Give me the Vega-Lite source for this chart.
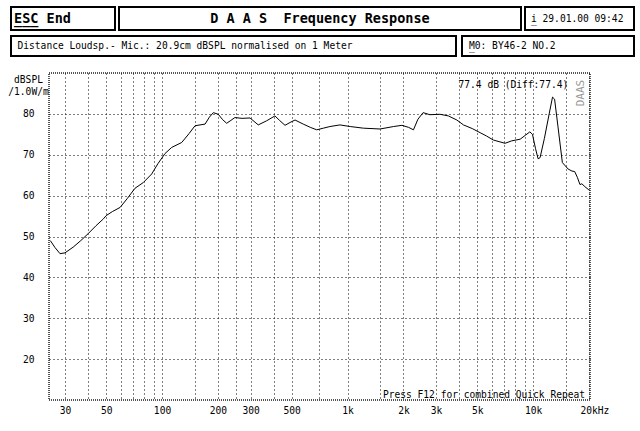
{
  "$schema": "https://vega.github.io/schema/vega-lite/v6.json",
  "background": "white",
  "padding": {"left": 6, "top": 6, "right": 0, "bottom": 0},
  "config": {
    "font": "DejaVu Sans Mono",
    "text": {"font": "DejaVu Sans Mono", "fontSize": 9.6, "color": "black"},
    "axis": {"labelFont": "DejaVu Sans Mono", "labelFontSize": 9.6, "labelColor": "black", "titleFont": "DejaVu Sans Mono", "titleColor": "black"}
  },
  "concat": [
    {
      "vconcat": [
        {
          "hconcat": [
            {
              "width": 104, "height": 23,
              "view": {"stroke": "black", "strokeWidth": 2},
              "layer": [
                {
                  "data": {"values": [{"t": "ESC End"}]},
                  "mark": {"type": "text", "align": "left", "baseline": "middle", "dx": -49, "fontWeight": "bold", "fontSize": 13.5},
                  "encoding": {"text": {"field": "t"}}
                },
                {
                  "data": {"values": [{"t": "___"}]},
                  "mark": {"type": "text", "align": "left", "baseline": "middle", "dx": -49, "dy": 1, "fontWeight": "bold", "fontSize": 13.5},
                  "encoding": {"text": {"field": "t"}}
                }
              ]
            },
            {
              "width": 402, "height": 23,
              "view": {"stroke": "black", "strokeWidth": 2},
              "data": {"values": [{"t": "D A A S \u00a0Frequency Response"}]},
              "mark": {"type": "text", "align": "center", "baseline": "middle", "fontWeight": "bold", "fontSize": 13.5},
              "encoding": {"text": {"field": "t"}}
            },
            {
              "width": 109, "height": 23,
              "view": {"stroke": "black", "strokeWidth": 2},
              "layer": [
                {
                  "data": {"values": [{"t": "i 29.01.00 09:42"}]},
                  "mark": {"type": "text", "align": "left", "baseline": "middle", "dx": -48.5},
                  "encoding": {"text": {"field": "t"}}
                },
                {
                  "data": {"values": [{"t": "_"}]},
                  "mark": {"type": "text", "align": "left", "baseline": "middle", "dx": -48.5, "dy": 1},
                  "encoding": {"text": {"field": "t"}}
                }
              ]
            }
          ],
          "spacing": 2
        },
        {
          "hconcat": [
            {
              "width": 445, "height": 20,
              "view": {"stroke": "black", "strokeWidth": 2},
              "data": {"values": [{"t": "Distance Loudsp.- Mic.: 20.9cm dBSPL normalised on 1 Meter"}]},
              "mark": {"type": "text", "align": "left", "baseline": "middle", "dx": -216},
              "encoding": {"text": {"field": "t"}}
            },
            {
              "width": 172, "height": 20,
              "view": {"stroke": "black", "strokeWidth": 2},
              "layer": [
                {
                  "data": {"values": [{"t": "M0: BY46-2 NO.2"}]},
                  "mark": {"type": "text", "align": "left", "baseline": "middle", "dx": -79},
                  "encoding": {"text": {"field": "t"}}
                },
                {
                  "data": {"values": [{"t": "_"}]},
                  "mark": {"type": "text", "align": "left", "baseline": "middle", "dx": -79, "dy": 1},
                  "encoding": {"text": {"field": "t"}}
                }
              ]
            }
          ],
          "spacing": 4
        }
      ],
      "spacing": 4
    },
    {
      "hconcat": [
        {
          "width": 1, "height": 327,
          "view": {"stroke": null},
          "data": {"values": []},
          "mark": "point"
        },
        {
          "width": 541, "height": 327,
          "view": {"stroke": "#555", "strokeWidth": 2, "strokeDash": [1, 1]},
          "layer": [
            {
              "data": {"values": [
                {"f": 25, "db": 49.0}, {"f": 26.5, "db": 47.3}, {"f": 28.2, "db": 45.8}, {"f": 30, "db": 46.0},
                {"f": 33.2, "db": 47.4}, {"f": 36.5, "db": 49.0}, {"f": 40, "db": 50.7}, {"f": 44, "db": 52.6},
                {"f": 48.3, "db": 54.3}, {"f": 50, "db": 55.1}, {"f": 54, "db": 56.1}, {"f": 59.4, "db": 57.1},
                {"f": 65, "db": 59.3}, {"f": 71.5, "db": 61.8}, {"f": 79.3, "db": 63.2}, {"f": 88, "db": 65.3},
                {"f": 95, "db": 67.8}, {"f": 103.8, "db": 70.3}, {"f": 112.8, "db": 71.8}, {"f": 127.7, "db": 73.0},
                {"f": 140, "db": 75.2}, {"f": 150.6, "db": 77.1}, {"f": 170.6, "db": 77.5}, {"f": 180, "db": 79.2},
                {"f": 189, "db": 80.3}, {"f": 201, "db": 79.9}, {"f": 212, "db": 78.6}, {"f": 223, "db": 77.7},
                {"f": 235, "db": 78.4}, {"f": 247, "db": 79.1}, {"f": 270, "db": 78.9}, {"f": 298, "db": 79.0},
                {"f": 330, "db": 77.3}, {"f": 366, "db": 78.3}, {"f": 406, "db": 79.5}, {"f": 430, "db": 78.4},
                {"f": 460, "db": 77.2}, {"f": 490, "db": 77.9}, {"f": 521, "db": 78.5}, {"f": 577, "db": 77.5},
                {"f": 630, "db": 76.7}, {"f": 682, "db": 76.1}, {"f": 740, "db": 76.5}, {"f": 803, "db": 76.9},
                {"f": 909, "db": 77.3}, {"f": 1034, "db": 76.9}, {"f": 1218, "db": 76.5}, {"f": 1496, "db": 76.3},
                {"f": 1769, "db": 76.9}, {"f": 1963, "db": 77.2}, {"f": 2132, "db": 76.7}, {"f": 2265, "db": 76.1},
                {"f": 2394, "db": 78.7}, {"f": 2552, "db": 80.3}, {"f": 2777, "db": 79.8}, {"f": 3148, "db": 79.9},
                {"f": 3495, "db": 79.5}, {"f": 3880, "db": 78.5}, {"f": 4212, "db": 77.3}, {"f": 4700, "db": 76.4},
                {"f": 5180, "db": 75.4}, {"f": 5600, "db": 74.6}, {"f": 6102, "db": 73.6}, {"f": 7058, "db": 72.8},
                {"f": 7665, "db": 73.4}, {"f": 8510, "db": 73.8}, {"f": 9100, "db": 74.8}, {"f": 9600, "db": 75.6},
                {"f": 9917, "db": 75.0}, {"f": 10300, "db": 71.5}, {"f": 10640, "db": 69.0}, {"f": 10900, "db": 69.3},
                {"f": 11500, "db": 74.0}, {"f": 12200, "db": 80.0}, {"f": 12720, "db": 84.1}, {"f": 13050, "db": 83.6},
                {"f": 13600, "db": 77.0}, {"f": 14370, "db": 68.1}, {"f": 15440, "db": 66.5}, {"f": 16200, "db": 66.0},
                {"f": 16740, "db": 65.9}, {"f": 17300, "db": 64.5}, {"f": 17880, "db": 62.7}, {"f": 18300, "db": 62.9},
                {"f": 19000, "db": 62.2}, {"f": 19970, "db": 61.4}
              ]},
              "mark": {"type": "line", "color": "black", "strokeWidth": 1},
              "encoding": {
                "x": {
                  "field": "f", "type": "quantitative",
                  "scale": {"type": "log", "domain": [24.6, 20250], "nice": false},
                  "axis": {
                    "title": null,
                    "values": [30, 40, 50, 60, 70, 80, 90, 100, 150, 200, 250, 300, 400, 500, 700, 1000, 1500, 2000, 3000, 4000, 5000, 6000, 7000, 8000, 9000, 10000, 15000, 20000],
                    "labelExpr": "datum.value==30?'30':datum.value==50?'50':datum.value==100?'100':datum.value==200?'200':datum.value==300?'300':datum.value==500?'500':datum.value==1000?'1k':datum.value==2000?'2k':datum.value==3000?'3k':datum.value==5000?'5k':datum.value==10000?'10k':datum.value==20000?'20kHz':''",
                    "labelAlign": {"expr": "datum.value == 20000 ? 'left' : 'center'"},
                    "labelOffset": {"expr": "datum.value == 20000 ? -9 : 0"},
                    "labelBaseline": "top",
                    "labelPadding": 5,
                    "labelOverlap": false,
                    "labelFlush": false,
                    "ticks": false,
                    "domain": false,
                    "grid": true,
                    "gridColor": "black",
                    "gridDash": [1, 3],
                    "gridWidth": 1,
                    "gridOpacity": 1
                  }
                },
                "y": {
                  "field": "db", "type": "quantitative",
                  "scale": {"domain": [10, 90], "nice": false, "zero": false},
                  "axis": {
                    "title": ["dBSPL", "/1.0W/m"],
                    "titleAngle": 0,
                    "titleAlign": "center",
                    "titleBaseline": "top",
                    "titleX": -21,
                    "titleY": 1,
                    "titleFontWeight": "normal",
                    "titleFontSize": 9.6,
                    "titleLineHeight": 12,
                    "values": [20, 30, 40, 50, 60, 70, 80],
                    "labelPadding": 15,
                    "ticks": false,
                    "domain": false,
                    "grid": true,
                    "gridColor": "black",
                    "gridDash": [1, 3],
                    "gridWidth": 1,
                    "gridOpacity": 1
                  }
                }
              }
            },
            {
              "data": {"values": [{"t": "77.4 dB (Diff:77.4)"}]},
              "mark": {"type": "text", "align": "right", "baseline": "alphabetic"},
              "encoding": {"x": {"datum": 15460}, "y": {"datum": 86.3}, "text": {"field": "t"}}
            },
            {
              "data": {"values": [{"t": "Press F12 for combined Quick Repeat"}]},
              "mark": {"type": "text", "align": "right", "baseline": "alphabetic"},
              "encoding": {"x": {"datum": 19050}, "y": {"datum": 10.5}, "text": {"field": "t"}}
            },
            {
              "data": {"values": [{"t": "DAAS"}]},
              "mark": {"type": "text", "align": "center", "baseline": "middle", "angle": 270, "color": "#999", "fontSize": 11},
              "encoding": {"x": {"datum": 18150}, "y": {"datum": 85.1}, "text": {"field": "t"}}
            }
          ]
        }
      ],
      "spacing": -6
    }
  ],
  "columns": 1,
  "spacing": 15,
  "align": "none"
}
